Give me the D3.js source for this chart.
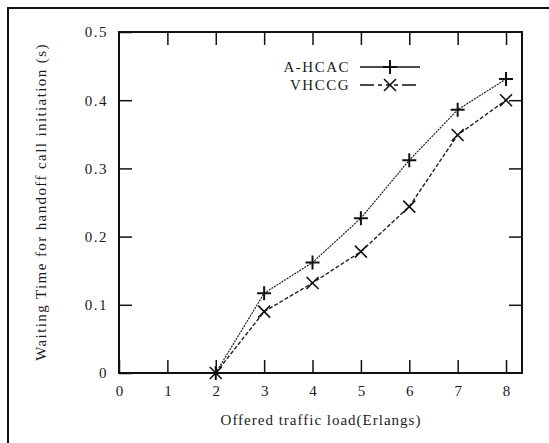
<!DOCTYPE html>
<html>
<head>
<meta charset="utf-8">
<script src="https://cdn.jsdelivr.net/npm/d3@7"></script>
<style>
body { margin: 0; background: #fff; }
text { font-family: "Liberation Serif", "DejaVu Serif", serif; fill: #1a1a1a; }
</style>
</head>
<body>
<div class="chart"></div>
<script>
var w = 549;
var h = 443;

var loads = [2, 3, 4, 5, 6, 7, 8];
var ahcac = [0, 0.117, 0.162, 0.227, 0.312, 0.386, 0.431];
var vhccg = [0, 0.090, 0.132, 0.178, 0.244, 0.349, 0.400];
var xTicks = [0, 1, 2, 3, 4, 5, 6, 7, 8];
var yTicks = [0, 0.1, 0.2, 0.3, 0.4, 0.5];

var plotLeft = 119, plotRight = 522, plotTop = 32, plotBottom = 373;

var xScale = d3.scaleLinear()
    .domain([0, 8.33])
    .range([plotLeft, plotRight]);

var yScale = d3.scaleLinear()
    .domain([0, 0.5])
    .range([plotBottom, plotTop]);

var svg = d3.select(".chart")
    .append("svg")
    .attr("width", w)
    .attr("height", h);

// outer frame (only top and left visible)
svg.append("path")
    .attr("d", "M8,446V8H552")
    .attr("fill", "none")
    .attr("stroke", "#111")
    .attr("stroke-width", 2);

// axes with inward ticks
var xAxis = d3.axisBottom(xScale).tickValues(xTicks).tickSize(-13).tickPadding(12)
    .tickFormat(d3.format("d"));
var yAxis = d3.axisLeft(yScale).tickValues(yTicks).tickSize(-13).tickPadding(11)
    .tickFormat(function(d) { return d === 0 ? "0" : d3.format(".1f")(d); });

svg.append("g")
    .attr("class", "xax")
    .attr("transform", "translate(0," + plotBottom + ")")
    .call(xAxis);
svg.append("g")
    .attr("class", "yax")
    .attr("transform", "translate(" + plotLeft + ",0)")
    .call(yAxis);

// mirrored ticks on top and right
svg.append("g")
    .attr("transform", "translate(0," + plotTop + ")")
    .call(d3.axisTop(xScale).tickValues(xTicks.slice(1)).tickSize(-13).tickFormat(""));
svg.append("g")
    .attr("transform", "translate(" + plotRight + ",0)")
    .call(d3.axisRight(yScale).tickValues(yTicks.slice(1, 5)).tickSize(-13).tickFormat(""));

svg.selectAll(".domain").remove();
svg.selectAll(".tick line").attr("stroke", "#111").attr("stroke-width", 1.5);
svg.selectAll(".tick text")
    .style("font-size", "15px")
    .style("font-family", "Liberation Serif, serif")
    .attr("fill", "#2a2a2a");
svg.selectAll(".yax .tick text").style("letter-spacing", "1.5px");

svg.append("rect")
    .attr("x", plotLeft)
    .attr("y", plotTop)
    .attr("width", plotRight - plotLeft)
    .attr("height", plotBottom - plotTop)
    .attr("fill", "none")
    .attr("stroke", "#111")
    .attr("stroke-width", 2);

// axis titles
svg.append("text")
    .attr("x", 321)
    .attr("y", 425)
    .attr("text-anchor", "middle")
    .style("font-size", "15px")
    .style("letter-spacing", "1px")
    .text("Offered traffic load(Erlangs)");

svg.append("text")
    .attr("transform", "translate(46,202) rotate(-90)")
    .attr("text-anchor", "middle")
    .style("font-size", "15px")
    .style("letter-spacing", "1.4px")
    .text("Waiting Time for handoff call initiation (s)");

// series
var line = d3.line()
    .x(function(d) { return xScale(d[0]); })
    .y(function(d) { return yScale(d[1]); });

var seriesA = loads.map(function(d, i) { return [d, ahcac[i]]; });
var seriesV = loads.map(function(d, i) { return [d, vhccg[i]]; });

svg.append("path")
    .datum(seriesA)
    .attr("d", line)
    .attr("fill", "none")
    .attr("stroke", "#222")
    .attr("stroke-width", 1.2)
    .attr("stroke-dasharray", "2,1");

svg.append("path")
    .datum(seriesV)
    .attr("d", line)
    .attr("fill", "none")
    .attr("stroke", "#222")
    .attr("stroke-width", 1.4)
    .attr("stroke-dasharray", "4,2");

function plusPath(cx, cy) {
    return "M" + (cx - 7) + "," + cy + "H" + (cx + 7) + "M" + cx + "," + (cy - 7) + "V" + (cy + 7);
}
function crossPath(cx, cy) {
    return "M" + (cx - 6) + "," + (cy - 6) + "L" + (cx + 6) + "," + (cy + 6) +
        "M" + (cx - 6) + "," + (cy + 6) + "L" + (cx + 6) + "," + (cy - 6);
}

svg.selectAll(".ptA")
    .data(seriesA)
    .enter()
    .append("path")
    .attr("class", "ptA")
    .attr("d", function(d) { return plusPath(xScale(d[0]), yScale(d[1])); })
    .attr("stroke", "#111")
    .attr("stroke-width", 2);

svg.selectAll(".ptV")
    .data(seriesV)
    .enter()
    .append("path")
    .attr("class", "ptV")
    .attr("d", function(d) { return crossPath(xScale(d[0]), yScale(d[1])); })
    .attr("stroke", "#111")
    .attr("stroke-width", 1.6);

// legend
var legend = svg.append("g");
legend.append("text")
    .attr("x", 350).attr("y", 72)
    .attr("text-anchor", "end")
    .style("font-size", "15px")
    .style("letter-spacing", "1.5px")
    .text("A-HCAC");
legend.append("path")
    .attr("d", "M360,67H420")
    .attr("stroke", "#111").attr("stroke-width", 1.5);
legend.append("path")
    .attr("d", plusPath(390, 67))
    .attr("stroke", "#111").attr("stroke-width", 2);

legend.append("text")
    .attr("x", 350).attr("y", 90)
    .attr("text-anchor", "end")
    .style("font-size", "15px")
    .style("letter-spacing", "1.5px")
    .text("VHCCG");
legend.append("path")
    .attr("d", "M360,85H420")
    .attr("stroke", "#111").attr("stroke-width", 1.5)
    .attr("stroke-dasharray", "14,4,4,4,4,4,4,4");
legend.append("path")
    .attr("d", crossPath(390, 85))
    .attr("stroke", "#111").attr("stroke-width", 1.6);
</script>
</body>
</html>
